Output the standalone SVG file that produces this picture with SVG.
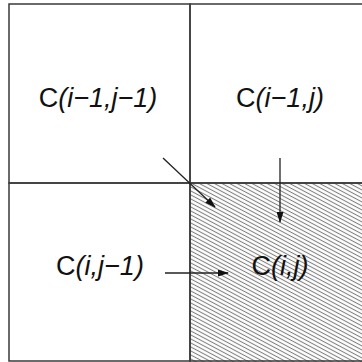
<svg xmlns="http://www.w3.org/2000/svg" width="362" height="362" viewBox="0 0 362 362">
<style>
.grid{fill:none;stroke:#3a3a3a;stroke-width:1.5}
.lbl{font-family:"Liberation Sans",Arial,sans-serif;font-size:27px;fill:#111;text-anchor:middle}
.it{font-style:italic}
.conn{stroke:#222;stroke-width:1.3;fill:none;marker-end:url(#ah)}
</style>
<defs>
<pattern id="hatch" patternUnits="userSpaceOnUse" width="8" height="4" patternTransform="skewY(28)">
<line x1="0" y1="1.5" x2="8" y2="1.5" stroke="#7e7e7e" stroke-width="1.2"/>
</pattern>
<marker id="ah" markerWidth="11" markerHeight="7" refX="10" refY="3.5" orient="auto" markerUnits="userSpaceOnUse">
<path d="M0,0 L11,3.5 L0,7 z" fill="#111"/>
</marker>
</defs>
<rect width="362" height="362" fill="#fff"/>
<g id="cell-ij">
<rect x="190" y="183" width="180" height="185" fill="url(#hatch)"/>
<text class="lbl" x="280" y="275">C<tspan class="it">(i,j)</tspan></text>
</g>
<g id="cell-im1-jm1">
<rect class="grid" x="9" y="4" width="181" height="179"/>
<text class="lbl" x="98" y="107">C<tspan class="it">(i−1,j−1)</tspan></text>
</g>
<g id="cell-im1-j">
<rect class="grid" x="190" y="4" width="180" height="179"/>
<text class="lbl" x="280" y="107">C<tspan class="it">(i−1,j)</tspan></text>
</g>
<g id="cell-i-jm1">
<rect class="grid" x="9" y="183" width="181" height="178"/>
<text class="lbl" x="100" y="275">C<tspan class="it">(i,j−1)</tspan></text>
</g>
<rect class="grid" x="190" y="183" width="180" height="178"/>
<g id="connectors">
<line class="conn" x1="163" y1="158" x2="215" y2="207"/>
<line class="conn" x1="280" y1="158" x2="280" y2="222"/>
<line class="conn" x1="165" y1="273" x2="228" y2="273"/>
</g>
</svg>
